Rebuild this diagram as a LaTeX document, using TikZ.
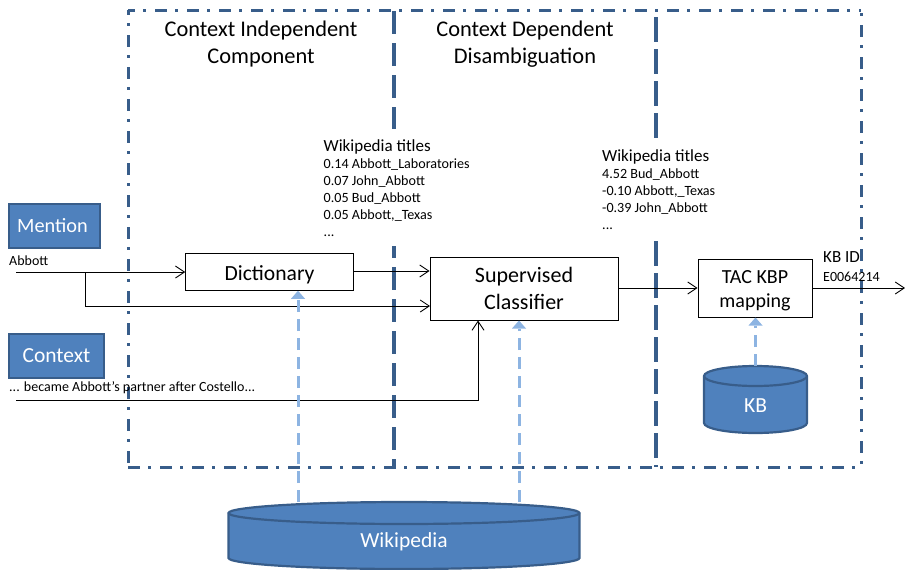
\documentclass[tikz,border=0pt]{standalone}
\usepackage{fontspec}
\setmainfont{Carlito}
\usetikzlibrary{arrows.meta}
\definecolor{bfill}{HTML}{4F81BD}
\definecolor{bedge}{HTML}{385D8A}
\definecolor{lblue}{HTML}{8DB4E2}
\newcommand{\titlefont}{\fontsize{17}{17}\selectfont}
\newcommand{\lowered}[1]{\raisebox{-3pt}[\height][\depth]{#1}}
% \cylshape{cx}{rx}{ytop centre}{ybottom centre}{ry}
\newcommand{\cylshape}[5]{%
  \path[cyl] (#1-#2,#3) -- (#1-#2,#4)
    .. controls (#1-#2,#4+0.55*#5) and (#1-0.55*#2,#4+#5) .. (#1,#4+#5)
    .. controls (#1+0.55*#2,#4+#5) and (#1+#2,#4+0.55*#5) .. (#1+#2,#4)
    -- (#1+#2,#3)
    .. controls (#1+#2,#3-0.55*#5) and (#1+0.55*#2,#3-#5) .. (#1,#3-#5)
    .. controls (#1-0.55*#2,#3-#5) and (#1-#2,#3-0.55*#5) .. (#1-#2,#3) -- cycle;
  \path[cyl] (#1-#2,#3)
    .. controls (#1-#2,#3+0.55*#5) and (#1-0.55*#2,#3+#5) .. (#1,#3+#5)
    .. controls (#1+0.55*#2,#3+#5) and (#1+#2,#3+0.55*#5) .. (#1+#2,#3);
}
\tikzset{
  x=1pt,y=-1pt,
  frameline/.style={draw=bedge,line width=3pt,dash pattern=on 12pt off 8pt on 3pt off 9pt},
  divideA/.style={draw=bedge,line width=3.2pt,dash pattern=on 23pt off 9pt},
  divideB/.style={draw=bedge,line width=3.2pt,dash pattern=on 25pt off 7pt},
  bluebox/.style={draw=bedge,fill=bfill,line width=2.5pt,text=white,inner sep=0pt},
  proc/.style={draw=black,fill=white,line width=1pt,align=center,inner sep=0pt},
  flow/.style={draw=black,line width=0.8pt,-{Straight Barb[length=9pt,width=12pt,line width=0.9pt]}},
  feed/.style={draw=lblue,line width=3pt,dash pattern=on 12pt off 7pt,-{Triangle[length=8pt,width=14pt,line width=0pt]}},
  cyl/.style={draw=bedge,fill=bfill,line width=2.2pt},
  head/.style={align=center,font=\fontsize{22.4}{27}\selectfont},
  lbl/.style={align=left,anchor=north west,fill=white,inner xsep=2pt,inner ysep=10pt,font=\fontsize{14.1}{17}\selectfont},
  small/.style={anchor=west,inner sep=0pt,font=\fontsize{14}{16}\selectfont},
}
\begin{document}
\begin{tikzpicture}
\useasboundingbox (0,0) rectangle (905,570);
% frame
\path[frameline,dash phase=5pt] (128,10) -- (861,10);
\path[frameline,dash phase=7pt] (128,10) -- (128,467);
\path[frameline,dash phase=17pt] (861,10) -- (861,467);
\path[frameline] (128,467) -- (861,467);
\path[divideA] (394,11) -- (394,467);
\path[divideB] (656,17) -- (656,467);
% headings
\node[head] (h1) at (261,44.5) {Context Independent\\Component};
\node[head] (h2) at (525,44.5) {Context Dependent\\Disambiguation};
% left boxes
\node[bluebox,minimum width=91pt,minimum height=44pt,font=\fontsize{20.3}{24}\selectfont] (mention) at (54.5,226) {Mention\kern4pt};
\node[bluebox,minimum width=95pt,minimum height=44pt,font=\fontsize{21.5}{24}\selectfont] (context) at (56.5,356) {Context};
\node[small] (abbott) at (9,260.5) {Abbott};
\node[small] (sent) at (9,388) {... became Abbott’s partner after Costello...};
% processes
\node[proc,minimum width=167.5pt,minimum height=36.5pt,font=\fontsize{21.6}{24}\selectfont] (dict) at (269.5,272) {\lowered{Dictionary}};
\node[proc,minimum width=188pt,minimum height=63pt,font=\fontsize{22}{27}\selectfont] (clf) at (524,288.5) {Supervised\\Classifier};
\node[proc,minimum width=114pt,minimum height=58pt,font=\fontsize{20}{24}\selectfont] (tac) at (755,288) {\lowered{TAC KBP}\\\lowered{mapping}};
% cylinders
\cylshape{404}{175.5}{513}{558}{11}
\node[text=white,font=\fontsize{21.5}{24}\selectfont] (wiki) at (404,542) {Wikipedia};
\cylshape{755.5}{51.5}{376}{423}{10}
\node[text=white,font=\fontsize{21.5}{24}\selectfont] (kb) at (755.5,406) {KB};
% free ends
\coordinate (inA) at (16,272);
\coordinate (branch) at (85,272);
\coordinate (inB) at (16,400);
\coordinate (elbow) at (478,400);
\coordinate (clfin) at (430,306);
\coordinate (outend) at (905,288);
\coordinate (w1) at (298,502);
\coordinate (w2) at (519,502);
\coordinate (kbtop) at (755.5,366);
% black connectors
\draw[flow] (inA) -- (dict.west);
\draw[flow] (branch) -- (85,306) -- (clfin);
\draw[flow] (dict.east |- 0,271) -- (clf.west |- 0,271);
\draw[flow] (inB) -- (elbow) -- (elbow |- clf.south);
\draw[flow] (clf.east |- 0,288) -- (tac.west |- 0,288);
\draw[flow] (tac.east |- 0,288) -- (outend);
% light blue feeds
\draw[feed] (w1) -- (w1 |- dict.south);
\draw[feed] (w2) -- (w2 |- clf.south);
\draw[feed] (kbtop) -- (kbtop |- tac.south);
% labels
\node[lbl] (t1) at (321.5,129) {{\titlefont Wikipedia titles}\\0.14 Abbott\_Laboratories\\0.07 John\_Abbott\\0.05 Bud\_Abbott\\0.05 Abbott,\_Texas\\...};
\node[lbl] (t2) at (600,139) {{\titlefont Wikipedia titles}\\4.52 Bud\_Abbott\\-0.10 Abbott,\_Texas\\-0.39 John\_Abbott\\...};
\node[anchor=west,inner sep=0pt,font=\fontsize{17}{20}\selectfont] (kbid) at (823,257) {KB ID};
\node[small] (eid) at (823,277) {E0064214};
\end{tikzpicture}
\end{document}
